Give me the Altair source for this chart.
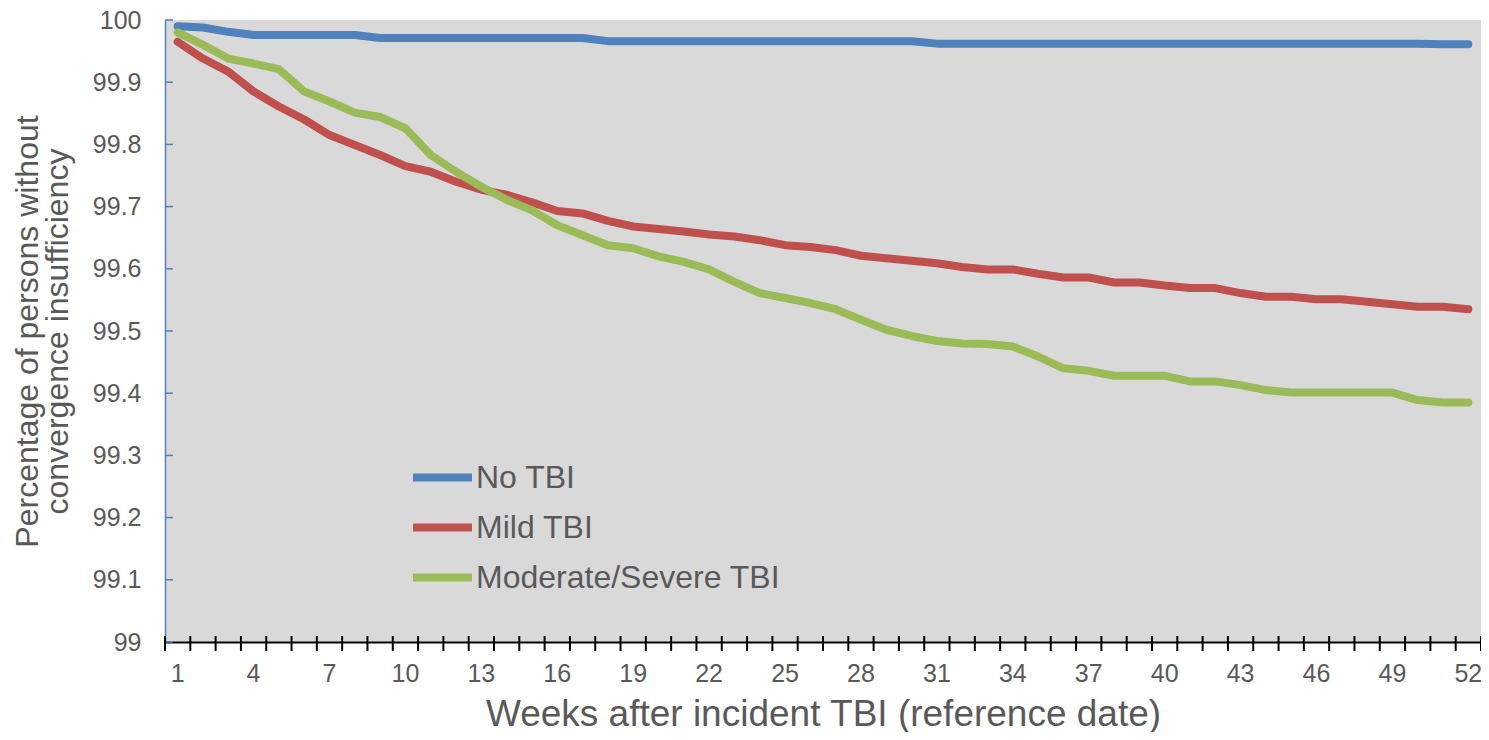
import altair as alt
import pandas as pd

weeks = list(range(1, 53))

no_tbi = [99.990, 99.988, 99.981, 99.976, 99.976, 99.976, 99.976, 99.976, 99.971, 99.971,
          99.971, 99.971, 99.971, 99.971, 99.971, 99.971, 99.971, 99.966, 99.966, 99.966,
          99.966, 99.966, 99.966, 99.966, 99.966, 99.966, 99.966, 99.966, 99.966, 99.966,
          99.962, 99.962, 99.962, 99.962, 99.962, 99.962, 99.962, 99.962, 99.962, 99.962,
          99.962, 99.962, 99.962, 99.962, 99.962, 99.962, 99.962, 99.962, 99.962, 99.962,
          99.961, 99.961]

mild_tbi = [99.965, 99.938, 99.917, 99.885, 99.861, 99.840, 99.815, 99.799, 99.783, 99.765,
            99.756, 99.740, 99.727, 99.719, 99.707, 99.693, 99.689, 99.677, 99.668, 99.664,
            99.660, 99.655, 99.652, 99.646, 99.638, 99.635, 99.630, 99.621, 99.617, 99.613,
            99.609, 99.603, 99.599, 99.599, 99.592, 99.586, 99.586, 99.578, 99.578, 99.573,
            99.569, 99.569, 99.561, 99.555, 99.555, 99.551, 99.551, 99.547, 99.543, 99.539,
            99.539, 99.535]

modsev_tbi = [99.980, 99.960, 99.938, 99.930, 99.921, 99.885, 99.869, 99.851, 99.844, 99.826,
              99.783, 99.756, 99.732, 99.711, 99.694, 99.670, 99.654, 99.638, 99.633, 99.620,
              99.611, 99.599, 99.579, 99.561, 99.553, 99.545, 99.535, 99.518, 99.502, 99.492,
              99.484, 99.480, 99.479, 99.475, 99.459, 99.440, 99.436, 99.428, 99.428, 99.428,
              99.419, 99.419, 99.413, 99.405, 99.401, 99.401, 99.401, 99.401, 99.401, 99.389,
              99.385, 99.385]

series_names = ["No TBI", "Mild TBI", "Moderate/Severe TBI"]
series_colors = ["#4F81BD", "#C0504D", "#9BBB59"]
y_ticks = [99.0, 99.1, 99.2, 99.3, 99.4, 99.5, 99.6, 99.7, 99.8, 99.9, 100.0]

rows = []
for name, vals in zip(series_names, [no_tbi, mild_tbi, modsev_tbi]):
    for w, v in zip(weeks, vals):
        rows.append({"week": w, "series": name, "value": v})
df = pd.DataFrame(rows)
tick_df = pd.DataFrame({"v": y_ticks})
week_df = pd.DataFrame({"week": weeks})
last_df = pd.DataFrame({"week": [weeks[-1]]})

W, H = 1316, 622
FONT = "Liberation Sans"
GREY = "#595959"

xscale = alt.Scale(type="band", paddingInner=0, paddingOuter=0)
yscale = alt.Scale(domain=[99, 100], nice=False, zero=False)

lines = alt.Chart(df).mark_line(strokeWidth=8, strokeCap="round", strokeJoin="round").encode(
    x=alt.X("week:O", scale=xscale,
            axis=alt.Axis(title="Weeks after incident TBI (reference date)",
                          labelAngle=0, labelAlign="center", labelFlush=False,
                          bandPosition=0.5,
                          labelExpr="(datum.value - 1) % 3 == 0 ? datum.label : ''",
                          ticks=False, tickSize=0,
                          domainColor="black", domainWidth=2,
                          labelFont=FONT, labelFontSize=25, labelColor=GREY, labelPadding=31,
                          titleFont=FONT, titleFontSize=37, titleColor=GREY,
                          titleFontWeight="normal", titlePadding=10)),
    y=alt.Y("value:Q", scale=yscale,
            axis=alt.Axis(title=["Percentage of persons without", "convergence insufficiency"],
                          values=y_ticks, format=".1~f", ticks=False, tickSize=0,
                          domainColor="#4F81BD", domainWidth=1.5, grid=False,
                          labelFont=FONT, labelFontSize=25, labelColor=GREY, labelPadding=24,
                          titleFont=FONT, titleFontSize=32, titleColor=GREY,
                          titleFontWeight="normal", titlePadding=18, titleLineHeight=30)),
    color=alt.Color("series:N",
                    scale=alt.Scale(domain=series_names, range=series_colors),
                    legend=alt.Legend(title=None, orient="none", legendX=244, legendY=424,
                                      symbolType="stroke", symbolSize=3481, symbolStrokeWidth=8,
                                      labelFont=FONT, labelFontSize=32, labelColor=GREY,
                                      labelLimit=0, labelOffset=0, rowPadding=0,
                                      symbolOffset=0)),
)

yticks = alt.Chart(tick_df).mark_rule(color="#4F81BD", strokeWidth=1.5).encode(
    y=alt.Y("v:Q", scale=yscale),
    x=alt.value(0),
    x2=alt.value(8),
)

xticks = alt.Chart(week_df).mark_rule(color="black", strokeWidth=2).encode(
    x=alt.X("week:O", scale=xscale, bandPosition=0),
    y=alt.value(H - 6),
    y2=alt.value(H + 9),
)
xticks_last = alt.Chart(last_df).mark_rule(color="black", strokeWidth=2).encode(
    x=alt.X("week:O", scale=xscale, bandPosition=1),
    y=alt.value(H - 6),
    y2=alt.value(H + 9),
)

chart = alt.layer(yticks, xticks, xticks_last, lines).properties(
    width=W, height=H,
    autosize=alt.AutoSizeParams(type="none"),
    padding={"left": 157, "top": 12, "right": 0, "bottom": 90},
    background="white",
).configure_view(fill="#D9D9D9", stroke=None)

chart.save("out.html", embed_options={"renderer": "svg", "actions": False})
